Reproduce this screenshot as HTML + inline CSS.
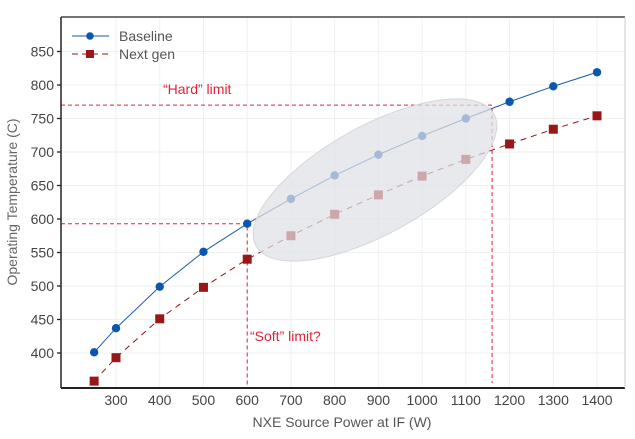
<!DOCTYPE html>
<html><head><meta charset="utf-8"><style>
body{margin:0;background:#fff;}
svg{display:block;font-family:"Liberation Sans",sans-serif;}
</style></head><body>
<svg id="chart" width="635" height="439">
<g id="grid"></g>
<g id="limits"></g>
<g id="series"></g>
<ellipse cx="375" cy="180" rx="136" ry="54" transform="rotate(-29 375 180)" fill="#dfe1e4" fill-opacity="0.72" stroke="#d4d6d9" stroke-width="1"/>
<g id="axes"></g>
<text x="163" y="94" font-size="14" fill="#e8203a">“Hard” limit</text>
<text x="250" y="341" font-size="14" fill="#e8203a">“Soft” limit?</text>
<g>
<line x1="72" y1="36" x2="109" y2="36" stroke="#1457a8" stroke-width="1"/>
<circle cx="90" cy="36" r="3.8" fill="#0b56b0"/>
<text x="119" y="41" font-size="14" fill="#555">Baseline</text>
<line x1="72" y1="54" x2="109" y2="54" stroke="#8b1515" stroke-width="1" stroke-dasharray="6,4"/>
<rect x="86" y="50" width="8" height="8" fill="#9b1616"/>
<text x="119" y="59" font-size="14" fill="#555">Next gen</text>
</g>
<text x="342" y="427" font-size="14" fill="#555" text-anchor="middle">NXE Source Power at IF (W)</text>
<text transform="translate(17 202) rotate(-90)" font-size="14" fill="#666" text-anchor="middle">Operating Temperature (C)</text>
</svg>
<script>
const xValues=[250,300,400,500,600,700,800,900,1000,1100,1200,1300,1400];
const baseline=[401,437,499,551,593,630,665,696,724,750,775,798,819];
const nextGen=[358,393,451,498,540,575,607,636,664,689,712,734,754];
const xTicks=[300,400,500,600,700,800,900,1000,1100,1200,1300,1400];
const yTicks=[400,450,500,550,600,650,700,750,800,850];
const hardLimit=770, softLimitPower=600, softLimitTemp=593, hardLimitPower=1160;
const L=61,R=625,T=17,B=388;
const X=v=>116+(v-300)*0.4373;
const Y=v=>353-(v-400)*0.67;
const NS='http://www.w3.org/2000/svg';
function mk(p,t,a){const e=document.createElementNS(NS,t);for(const k in a)e.setAttribute(k,a[k]);p.appendChild(e);return e;}
const grid=document.getElementById('grid'),axes=document.getElementById('axes'),lim=document.getElementById('limits'),ser=document.getElementById('series');
xTicks.forEach(t=>{const l=mk(grid,'line',{x1:X(t),x2:X(t),y1:T,y2:B,stroke:'#eef0f2','stroke-width':1});


const tx=mk(axes,'text',{x:X(t),y:405,'font-size':14,fill:'#444','text-anchor':'middle'});tx.textContent=t;

});
yTicks.forEach(t=>{const l=mk(grid,'line',{x1:L,x2:R,y1:Y(t),y2:Y(t),stroke:'#eef0f2','stroke-width':1});


mk(axes,'line',{x1:L-4,x2:L,y1:Y(t),y2:Y(t),stroke:'#222','stroke-width':1.3});
const tx=mk(axes,'text',{x:L-7,y:Y(t)+5,'font-size':14,fill:'#444','text-anchor':'end'});tx.textContent=t;

});
mk(axes,'line',{x1:L,x2:L,y1:T,y2:B,stroke:'#222','stroke-width':1.5});
mk(axes,'line',{x1:L,x2:R,y1:B,y2:B,stroke:'#222','stroke-width':2});
mk(axes,'line',{x1:L,x2:R,y1:T,y2:T,stroke:'#222','stroke-width':1.2});
mk(axes,'line',{x1:R,x2:R,y1:T,y2:B,stroke:'#ccc','stroke-width':1});
const dash={stroke:'#e8203a','stroke-width':1,'stroke-dasharray':'4,3',fill:'none'};
mk(lim,'polyline',Object.assign({points:`${L},${Y(hardLimit)} ${X(hardLimitPower)},${Y(hardLimit)} ${X(hardLimitPower)},${B-5}`},dash));
mk(lim,'polyline',Object.assign({points:`${L},${Y(softLimitTemp)} ${X(softLimitPower)},${Y(softLimitTemp)} ${X(softLimitPower)},${B}`},dash));
mk(ser,'polyline',{points:xValues.map((v,i)=>X(v)+','+Y(baseline[i])).join(' '),fill:'none',stroke:'#1a5ca8','stroke-width':1});
mk(ser,'polyline',{points:xValues.map((v,i)=>X(v)+','+Y(nextGen[i])).join(' '),fill:'none',stroke:'#8b1515','stroke-width':1,'stroke-dasharray':'6,5'});
xValues.forEach((v,i)=>{
const c=mk(ser,'circle',{cx:X(v),cy:Y(baseline[i]),r:4.2,fill:'#0b56b0'});


const r=mk(ser,'rect',{x:X(v)-4.5,y:Y(nextGen[i])-4.5,width:9,height:9,fill:'#9b1616'});

});
</script>
</body></html>
